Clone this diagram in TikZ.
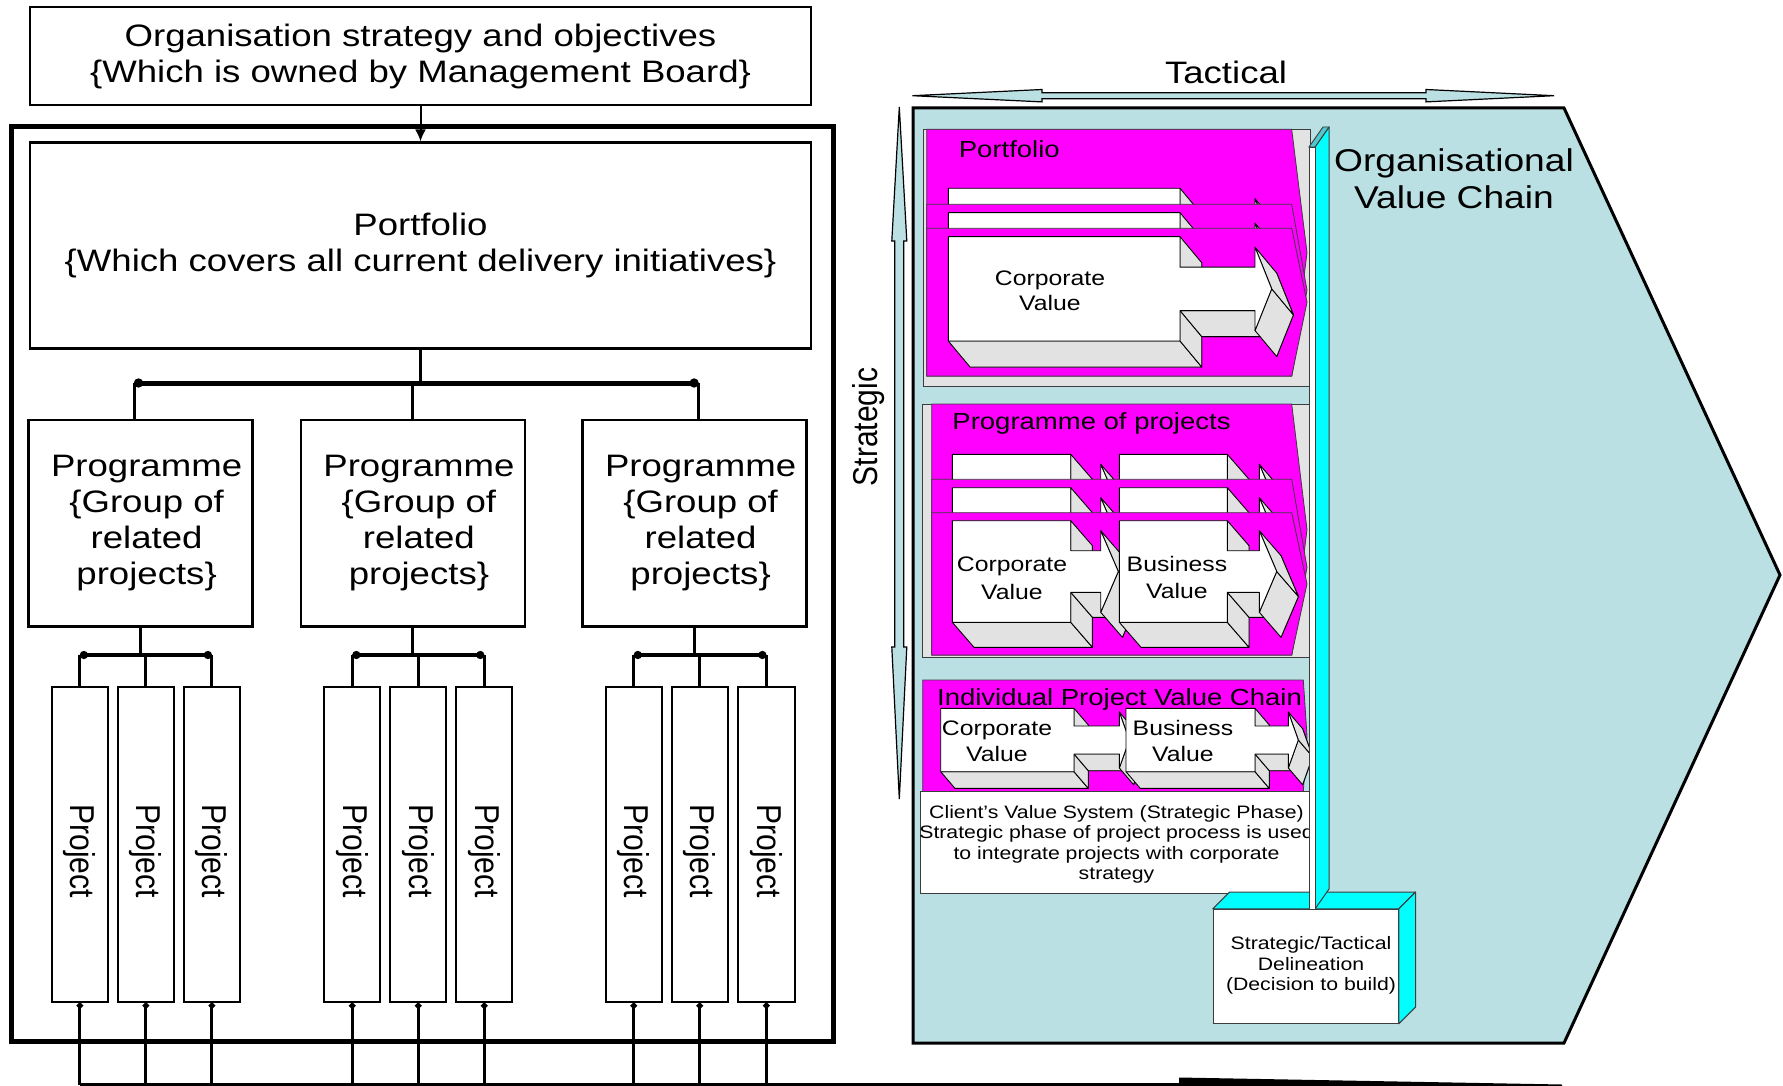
\documentclass[tikz,border=0pt]{standalone}
\usepackage{fontspec}
\setmainfont{Liberation Sans}[FakeStretch=1.18]
\newfontfamily\uprightfont{Liberation Sans}
\usetikzlibrary{arrows.meta}

\definecolor{chainblue}{RGB}{186,224,227}
\definecolor{panelgray}{RGB}{227,227,227}
\definecolor{bevelgray}{RGB}{226,226,226}
\definecolor{layermag}{RGB}{255,0,255}
\definecolor{barcyan}{RGB}{0,255,255}
\definecolor{capcyan}{RGB}{80,200,205}
\definecolor{darkline}{RGB}{60,60,60}

\newcommand\fontL{\fontsize{31}{36}\selectfont}
\newcommand\fontM{\fontsize{23.3}{27}\selectfont}
\newcommand\fontS{\fontsize{18}{20.4}\selectfont}
\newcommand\fontR{\uprightfont\fontsize{30}{36}\selectfont}

% 3D block arrow: front face polygon extruded by (\dpx,\dpy)
% #1 left x, #2 top y, #3 body right x, #4 head base x, #5 tip x,
% #6 body height, #7 half shaft height, #8 half head height
\newcommand\blockarrow[8]{%
  \pgfmathsetmacro\bya{#2}%
  \pgfmathsetmacro\byc{#2+#6/2}%
  \pgfmathsetmacro\byb{#2+#6}%
  \pgfmathsetmacro\bsa{\byc-#7}%
  \pgfmathsetmacro\bsb{\byc+#7}%
  \pgfmathsetmacro\bha{\byc-#8}%
  \pgfmathsetmacro\bhb{\byc+#8}%
  \coordinate (A1) at (#1,\bya);
  \coordinate (A2) at (#3,\bya);
  \coordinate (A3) at (#3,\bsa);
  \coordinate (A4) at (#4,\bsa);
  \coordinate (A5) at (#4,\bha);
  \coordinate (A6) at (#5,\byc);
  \coordinate (A7) at (#4,\bhb);
  \coordinate (A8) at (#4,\bsb);
  \coordinate (A9) at (#3,\bsb);
  \coordinate (A10) at (#3,\byb);
  \coordinate (A11) at (#1,\byb);
  \foreach \i in {1,...,11}{\coordinate (B\i) at ([shift={(\dpx,\dpy)}]A\i);}
  \filldraw[bevel] (B1) \foreach \i in {2,...,11}{ -- (B\i)} -- cycle;
  \foreach \p/\q in {10/11,9/10,8/9,6/7,5/6,2/3}{\filldraw[bevel] (A\p) -- (A\q) -- (B\q) -- (B\p) -- cycle;}
  \filldraw[face] (A1) \foreach \i in {2,...,11}{ -- (A\i)} -- cycle;
}

% stacked sheet with a shallow pointed right side
\newcommand\sheet[3]{%
  \filldraw[layer] (#1,#2) -- (1291.7,#2) -- (1307,{(#2+#3)/2}) -- (1291.7,#3) -- (#1,#3) -- cycle;
}

\begin{document}
\begin{tikzpicture}[x=1pt,y=-1pt,
  frame/.style={draw=black, fill=white, inner sep=0pt, align=center},
  txt/.style={inner sep=0pt, align=center},
  link/.style={line width=3pt},
  thinlink/.style={line width=2pt},
  bus/.style={line width=5pt, {Circle[length=9pt]}-{Circle[length=9pt]}},
  pbus/.style={line width=4pt, {Circle[length=8pt]}-{Circle[length=8pt]}},
  drop/.style={line width=3pt, {Circle[length=6pt]}-},
  projbox/.style={frame, line width=2pt, minimum width=56.3pt, minimum height=315pt},
  progbox/.style={frame, line width=2.5pt, minimum height=206.7pt},
  progtext/.style={txt, font=\fontL},
  projlabel/.style={txt, font=\fontR, xscale=1.15, rotate=-90},
  bevel/.style={fill=bevelgray, draw=black, line width=0.9pt, line join=round},
  face/.style={fill=white, draw=black, line width=0.9pt, line join=round},
  layer/.style={fill=layermag, draw=darkline, line width=0.8pt},
  panel/.style={fill=panelgray, draw=darkline, line width=0.9pt},
  twoway/.style={fill=chainblue, draw=black, line width=1.2pt, line join=miter},
  cyanface/.style={fill=barcyan, draw=darkline, line width=1pt, line join=round},
  arrowtxt/.style={txt, font=\fontsize{21}{26}\selectfont}
]
\useasboundingbox (0,0) rectangle (1783,1086);
\fill[white] (0,0) rectangle (1783,1086);

%% ---------------- left: governance hierarchy ----------------
\draw[line width=4.5pt] (11.5,126.7) rectangle (833.5,1041.6);

\node[frame, line width=1.5pt, minimum width=781pt, minimum height=98pt, font=\fontL]
  (org) at (420.5,56) {Organisation strategy and objectives\\\{Which is owned by Management Board\}};
\node[frame, line width=2.5pt, minimum width=781pt, minimum height=206pt, font=\fontL]
  (port) at (420.5,245.7) {Portfolio\\\{Which covers all current delivery initiatives\}};
\draw[thinlink, -{Latex[length=12pt,width=11pt]}] (org.south) -- (port.north);

\node[progbox, minimum width=224pt] (prog1) at (140.6,523.3) {};
\node[progbox, minimum width=223.7pt] (prog2) at (412.9,523.3) {};
\node[progbox, minimum width=223.8pt] (prog3) at (694.6,523.3) {};
\foreach \g in {1,2,3}{
  \node[progtext] (prog\g t) at ([xshift=6pt]prog\g.center) {Programme\\\{Group of\\related\\projects\}};
}

\coordinate (pbL) at (134,383);
\coordinate (pbR) at (698.6,383);
\draw[link] (port.south) -- (port.south |- pbL);
\draw[link] (pbL) -- (pbL |- prog1.north);
\draw[link] (prog2.north |- pbL) -- (prog2.north);
\draw[link] (pbR) -- (pbR |- prog3.north);
\draw[bus] (pbL) -- (pbR);

% project boxes
\foreach \nm/\px in {p11/79.9, p12/145.9, p13/211.9, p21/352.3, p22/418.3, p23/484.3, p31/633.8, p32/699.8, p33/766.4}{
  \node[projbox] (\nm) at (\px,844.2) {};
  \node[projlabel] (\nm t) at (\px,851) {Project};
}

\coordinate (busY) at (0,655);
\foreach \g in {1,2,3}{
  \draw[link] (prog\g.south) -- (prog\g.south |- busY);
  \draw[link] (p\g1.north |- busY) -- (p\g1.north);
  \draw[link] (p\g2.north |- busY) -- (p\g2.north);
  \draw[link] (p\g3.north |- busY) -- (p\g3.north);
  \draw[pbus] (p\g1.north |- busY) -- (p\g3.north |- busY);
}

% connections running below the frame
\coordinate (floorY) at (0,1084.5);
\foreach \nm in {p11,p12,p13,p21,p22,p23,p31,p32,p33}{
  \draw[drop] (\nm.south) -- (\nm.south |- floorY);
}
\coordinate (floorEnd) at (1179,1084.5);
\draw[line width=3pt] (p11.south |- floorY) -- (floorEnd);
\fill (1179,1077.5) -- (1562,1084.5) -- (1562,1086) -- (1179,1086) -- cycle;

%% ---------------- right: organisational value chain ----------------
% strategic / tactical double arrows
\filldraw[twoway] (912.5,95.7) -- (1042,89.5) -- (1042,92.7) -- (1426,92.7) -- (1426,89.5)
  -- (1554,95.7) -- (1426,101.9) -- (1426,98.7) -- (1042,98.7) -- (1042,101.9) -- cycle;
\node[txt, font=\fontL] (tactical) at (1226,72.5) {Tactical};

\filldraw[twoway] (899.3,107) -- (906.8,241) -- (903.8,241) -- (903.8,647) -- (906.8,647)
  -- (899.3,799) -- (891.8,647) -- (894.8,647) -- (894.8,241) -- (891.8,241) -- cycle;
\node[txt, font=\fontR, xscale=1.15, rotate=90] (strategic) at (869,427) {Strategic};

% the chain itself
\filldraw[fill=chainblue, draw=black, line width=3pt, line join=miter]
  (913,108) -- (1564,108) -- (1780,575) -- (1564,1043) -- (913,1043) -- cycle;
\node[txt, font=\fontsize{31.5}{36.6}\selectfont] (ovc) at (1454,179) {Organisational\\Value Chain};

% portfolio level
\filldraw[panel] (923.3,129.3) rectangle (1310,386);
\def\dpx{21.7}\def\dpy{26}
\sheet{926.7}{129.3}{376}
\blockarrow{948.3}{188.3}{1180}{1255}{1271.7}{104.3}{21.7}{41.7}
\sheet{926.7}{204.3}{376}
\blockarrow{948.3}{212.7}{1180}{1255}{1271.7}{104.3}{21.7}{41.7}
\sheet{926.7}{228.3}{376}
\blockarrow{948.3}{236.7}{1180}{1255}{1271.7}{104.3}{21.7}{41.7}
\node[txt, font=\fontM] (portT) at (1009.3,149.5) {Portfolio};
\node[arrowtxt, font=\fontsize{21}{24.5}\selectfont] (portCV) at (1050,291) {Corporate\\Value};

% programme level
\filldraw[panel] (922.7,404) rectangle (1310,657.3);
\def\dpx{21.7}\def\dpy{25}
\sheet{931.7}{404}{655}
\blockarrow{952.3}{454.3}{1070.7}{1100.7}{1118.3}{101.6}{20.8}{40.8}
\blockarrow{1119.3}{454.3}{1227.3}{1259.3}{1276.7}{101.6}{20.8}{40.8}
\sheet{931.7}{479.3}{655}
\blockarrow{952.3}{487.7}{1070.7}{1100.7}{1118.3}{101.6}{20.8}{40.8}
\blockarrow{1119.3}{487.7}{1227.3}{1259.3}{1276.7}{101.6}{20.8}{40.8}
\sheet{931.7}{512.7}{655}
\blockarrow{952.3}{520.7}{1070.7}{1100.7}{1118.3}{101.6}{20.8}{40.8}
\blockarrow{1119.3}{520.7}{1227.3}{1259.3}{1276.7}{101.6}{20.8}{40.8}
\node[txt, font=\fontM] (progT) at (1091.5,423.5) {Programme of projects};
\node[arrowtxt, font=\fontsize{21}{28}\selectfont] (progCV) at (1012,578.7) {Corporate\\Value};
\node[arrowtxt, font=\fontsize{21}{26.5}\selectfont] (progBV) at (1177,577.4) {Business\\Value};

% individual project level
\filldraw[layer] (922.7,680) -- (1303.3,680) -- (1307,736) -- (1303.3,791.7) -- (922.7,791.7) -- cycle;
\def\dpx{14.3}\def\dpy{16.7}
\blockarrow{940.7}{708.3}{1074}{1119.3}{1129.3}{63.4}{14}{28}
\blockarrow{1126}{708.3}{1255}{1288.3}{1298.3}{63.4}{14}{28}
\node[txt, font=\fontM] (indT) at (1119.5,699.7) {Individual Project Value Chain};
\node[arrowtxt, font=\fontsize{21}{25.7}\selectfont] (indCV) at (997,741.2) {Corporate\\Value};
\node[arrowtxt, font=\fontsize{21}{25.7}\selectfont] (indBV) at (1183,741.2) {Business\\Value};

% client's value system
\node[draw=darkline, fill=white, line width=1pt, inner sep=0pt, minimum width=389.3pt, minimum height=101.6pt]
  (client) at (1115.35,842.5) {};
\begin{scope}
  \clip (client.south west) rectangle (client.north east);
  \node[txt, font=\fontS] (clientT) at (1116.5,844.3)
    {Client’s Value System (Strategic Phase)\\Strategic phase of project process is used\\to integrate projects with corporate\\strategy};
\end{scope}

% decision box with its 3D faces
\node[draw=darkline, fill=white, line width=1pt, inner sep=0pt, minimum width=185pt, minimum height=114pt]
  (decide) at (1305.8,966.3) {};
\filldraw[cyanface] (decide.north west) -- ++(16.7,-16.7) -- ([shift={(16.7,-16.7)}]decide.north east)
  -- (decide.north east) -- cycle;
\filldraw[cyanface] (decide.north east) -- ++(16.7,-16.7) -- ([shift={(16.7,-16.7)}]decide.south east)
  -- (decide.south east) -- cycle;
\node[txt, font=\fontS] (decideT) at (1311,965.5) {Strategic/Tactical\\Delineation\\(Decision to build)};

% vertical delineation bar
\filldraw[cyanface] (1315,147) -- (1329,127) -- (1329,889) -- (1315,909) -- cycle;
\filldraw[fill=white, draw=darkline, line width=0.9pt] (1309,147) rectangle (1315,909);
\filldraw[fill=capcyan, draw=darkline, line width=0.9pt] (1309,147) -- (1323,127) -- (1329,127) -- (1315,147) -- cycle;
\end{tikzpicture}
\end{document}
